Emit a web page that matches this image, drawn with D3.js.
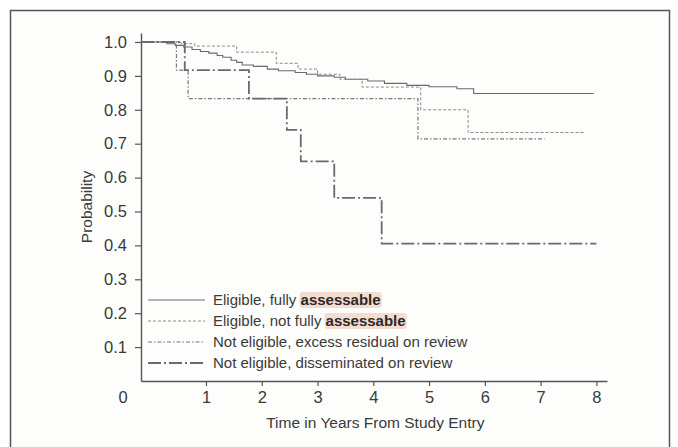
<!DOCTYPE html>
<html>
<head>
<meta charset="utf-8">
<script src="https://cdn.jsdelivr.net/npm/d3@7"></script>
<style>
  body { margin: 0; background: #fff; }
  svg { display: block; }
  text { font-family: "Liberation Sans", Arial, Helvetica, sans-serif; fill: #3a3a3a; }
</style>
</head>
<body>
<svg id="chart" width="678" height="447"></svg>
<script>
// step curves: [years, probability]
var fullyAssessable = [
  [0, 1.0], [0.3, 0.995], [0.45, 0.99], [0.6, 0.985], [0.75, 0.978], [0.9, 0.972],
  [1.05, 0.967], [1.2, 0.96], [1.3, 0.955], [1.45, 0.946], [1.55, 0.94], [1.65, 0.932],
  [1.85, 0.928], [2.1, 0.92], [2.3, 0.915], [2.6, 0.91], [2.8, 0.905], [3.0, 0.9],
  [3.3, 0.896], [3.5, 0.89], [3.9, 0.885], [4.2, 0.878], [4.6, 0.872], [5.0, 0.868],
  [5.5, 0.862], [5.8, 0.848], [7.95, 0.848]
];
var notFullyAssessable = [
  [0, 1.0], [0.55, 0.995], [0.8, 0.988], [1.55, 0.97], [2.26, 0.937], [2.65, 0.92],
  [3.0, 0.905], [3.4, 0.89], [3.8, 0.867], [4.85, 0.80], [5.7, 0.733], [7.8, 0.733]
];
var excessResidual = [
  [0, 1.0], [0.47, 0.917], [0.68, 0.833], [4.8, 0.714], [7.07, 0.714]
];
var disseminated = [
  [0, 1.0], [0.62, 0.917], [1.77, 0.833], [2.45, 0.741], [2.7, 0.648], [3.3, 0.54],
  [4.15, 0.405], [8.0, 0.405]
];

var legendLabels = [
  ["Eligible, fully ", "assessable"],
  ["Eligible, not fully ", "assessable"],
  ["Not eligible, excess residual on review", ""],
  ["Not eligible, disseminated on review", ""]
];
var yTicks = [0.1, 0.2, 0.3, 0.4, 0.5, 0.6, 0.7, 0.8, 0.9, 1.0];
var xTicks = [1, 2, 3, 4, 5, 6, 7, 8];

var seriesList = [fullyAssessable, notFullyAssessable, excessResidual, disseminated];
var styles = [
  { dash: null, width: 1.1, color: "#6a6a6a" },
  { dash: "3,2", width: 1, color: "#8a8a8a" },
  { dash: "4,2,1.5,2", width: 1.2, color: "#777" },
  { dash: "13,3,2,3", width: 1.8, color: "#6a6a6a" }
];

var svg = d3.select("#chart");

// outer frame
svg.append("rect")
  .attr("x", 10.5).attr("y", 10.5)
  .attr("width", 659).attr("height", 450)
  .attr("fill", "#fdfdfc")
  .attr("stroke", "#555").attr("stroke-width", 1.5);

var x = d3.scaleLinear().domain([-0.165, 8.19]).range([141, 607]);
var y = d3.scaleLinear().domain([0, 1.0265]).range([381, 33]);

var axisColor = "#555";
var tickFont = "16.5px";
var labelFont = "15px";

// y axis
var yAxis = svg.append("g").attr("transform", "translate(" + x(-0.165) + ",0)")
  .call(d3.axisLeft(y).tickValues(yTicks).tickFormat(d3.format(".1f")).tickSize(6).tickSizeOuter(0));
// x axis
var xAxis = svg.append("g").attr("transform", "translate(0," + y(0) + ")")
  .call(d3.axisBottom(x).tickValues(xTicks).tickFormat(d3.format("d")).tickSize(5).tickSizeOuter(0));

[yAxis, xAxis].forEach(function(a) {
  a.select(".domain").attr("stroke", axisColor).attr("stroke-width", 1.4);
  a.selectAll(".tick line").attr("stroke", axisColor).attr("stroke-width", 1.2);
  a.selectAll(".tick text")
    .style("font-family", '"Liberation Sans", Arial, sans-serif')
    .style("font-size", tickFont).attr("fill", "#3a3a3a");
});
yAxis.selectAll(".tick text").attr("x", -14);
xAxis.selectAll(".tick text").attr("y", 10);

// lone origin label
svg.append("text")
  .attr("x", 123).attr("y", y(0) + 10).attr("dy", "0.71em")
  .attr("text-anchor", "middle").style("font-size", tickFont)
  .text("0");

svg.append("text")
  .attr("transform", "translate(87," + ((y(0) + y(1.0265)) / 2) + ") rotate(-90)")
  .attr("text-anchor", "middle").attr("dy", "0.35em")
  .style("font-size", "15.5px")
  .text("Probability");

svg.append("text")
  .attr("x", (x(0) + x(8)) / 2 + 2).attr("y", 428)
  .attr("text-anchor", "middle")
  .style("font-size", "15.5px")
  .text("Time in Years From Study Entry");

// curves
var line = d3.line()
  .x(function(d) { return x(d[0]); })
  .y(function(d) { return y(d[1]); })
  .curve(d3.curveStepAfter);

seriesList.forEach(function(s, i) {
  // start each curve at the axis line
  var pts = [[-0.165, s[0][1]]].concat(s);
  svg.append("path")
    .datum(pts)
    .attr("d", line)
    .attr("fill", "none")
    .attr("stroke", styles[i].color)
    .attr("stroke-width", styles[i].width)
    .attr("stroke-dasharray", styles[i].dash);
});

// legend
var legendRows = [300, 321, 342, 363];
legendLabels.forEach(function(lab, i) {
  var ly = legendRows[i];
  svg.append("line")
    .attr("x1", 148).attr("x2", 205)
    .attr("y1", ly).attr("y2", ly)
    .attr("stroke", styles[i].color)
    .attr("stroke-width", styles[i].width)
    .attr("stroke-dasharray", styles[i].dash);

  var g = svg.append("g");
  var t = g.append("text")
    .attr("x", 213).attr("y", ly).attr("dy", "0.35em")
    .style("font-size", labelFont);
  t.append("tspan").text(lab[0]);
  if (lab[1]) {
    t.append("tspan").text(lab[1]).attr("fill", "#2a2a2a").style("font-weight", "bold");
    var node = t.node();
    var start = lab[0].length;
    var sx = node.getStartPositionOfChar(start).x;
    var w = node.getSubStringLength(start, lab[1].length);
    g.insert("rect", "text")
      .attr("x", sx - 1).attr("y", ly - 8)
      .attr("width", w + 2).attr("height", 16)
      .attr("rx", 3)
      .attr("fill", "#f6dbd0");
  }
});
</script>
</body>
</html>
